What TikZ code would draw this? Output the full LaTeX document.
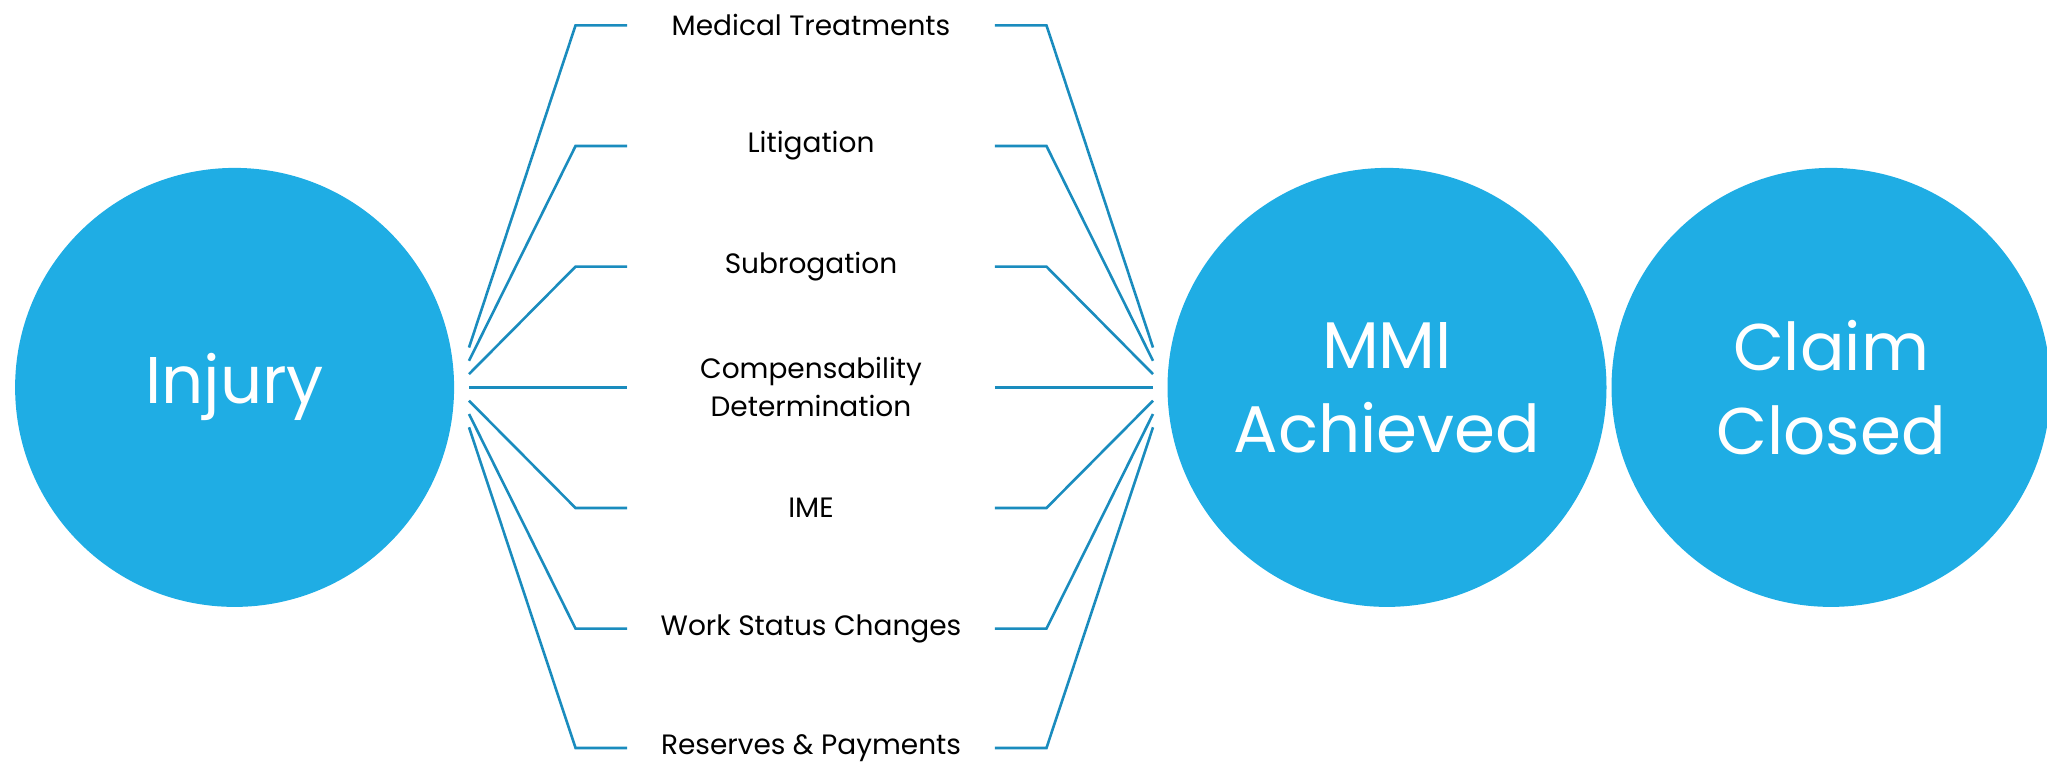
\documentclass[tikz,border=0pt]{standalone}
\usepackage{fontspec}
\setmainfont{Poppins}
\usetikzlibrary{positioning}
\definecolor{bubblefill}{HTML}{1FADE4}
\definecolor{spokeblue}{HTML}{1A8CBE}

\begin{document}
\begin{tikzpicture}[x=1pt,y=-1pt,
  bubble/.style={circle, fill=bubblefill, minimum size=439pt, inner sep=0pt,
    text=white, align=center, font=\fontsize{66}{84}\selectfont},
  task/.style={minimum width=367.5pt, inner sep=0pt, align=center,
    font=\fontsize{28}{38}\selectfont},
  spoke/.style={draw=spokeblue, line width=2.6pt}]
\useasboundingbox (0,0) rectangle (2047,764);

% the three stages
\node[bubble] (inj) at (234.6,387.4) {Injury};
\node[bubble] (mmi) at (1387,387.4) {MMI\\Achieved};
\node[bubble] (cls) at (1831,387.4) {Claim\\Closed};

% what happens in between
\node[task] (med)  at (811,25.3)  {Medical Treatments};
\node[task] (lit)  at (811,146)   {Litigation};
\node[task] (sub)  at (811,266.6) {Subrogation};
\node[task] (comp) at (811,387.4) {Compensability\\Determination};
\node[task] (ime)  at (811,508)   {IME};
\node[task] (work) at (811,628.6) {Work Status Changes};
\node[task] (res)  at (811,748)   {Reserves \& Payments};

% loose ends next to the circles
\coordinate (in1) at (469,347.5);  \coordinate (out1) at (1153,347.5);
\coordinate (in2) at (469,360.8);  \coordinate (out2) at (1153,360.8);
\coordinate (in3) at (469,374.1);  \coordinate (out3) at (1153,374.1);
\coordinate (in4) at (469,387.4);  \coordinate (out4) at (1153,387.4);
\coordinate (in5) at (469,400.7);  \coordinate (out5) at (1153,400.7);
\coordinate (in6) at (469,414);    \coordinate (out6) at (1153,414);
\coordinate (in7) at (469,427.3);  \coordinate (out7) at (1153,427.3);

\draw[spoke] (in1) -- ([xshift=-51.5pt]med.west) -- (med.west);
\draw[spoke] (in2) -- ([xshift=-51.5pt]lit.west) -- (lit.west);
\draw[spoke] (in3) -- ([xshift=-51.5pt]sub.west) -- (sub.west);
\draw[spoke] (in4) -- ([xshift=-51.5pt]comp.west) -- (comp.west);
\draw[spoke] (in5) -- ([xshift=-51.5pt]ime.west) -- (ime.west);
\draw[spoke] (in6) -- ([xshift=-51.5pt]work.west) -- (work.west);
\draw[spoke] (in7) -- ([xshift=-51.5pt]res.west) -- (res.west);

\draw[spoke] (med.east) -- ([xshift=51.5pt]med.east) -- (out1);
\draw[spoke] (lit.east) -- ([xshift=51.5pt]lit.east) -- (out2);
\draw[spoke] (sub.east) -- ([xshift=51.5pt]sub.east) -- (out3);
\draw[spoke] (comp.east) -- ([xshift=51.5pt]comp.east) -- (out4);
\draw[spoke] (ime.east) -- ([xshift=51.5pt]ime.east) -- (out5);
\draw[spoke] (work.east) -- ([xshift=51.5pt]work.east) -- (out6);
\draw[spoke] (res.east) -- ([xshift=51.5pt]res.east) -- (out7);
\end{tikzpicture}
\end{document}
